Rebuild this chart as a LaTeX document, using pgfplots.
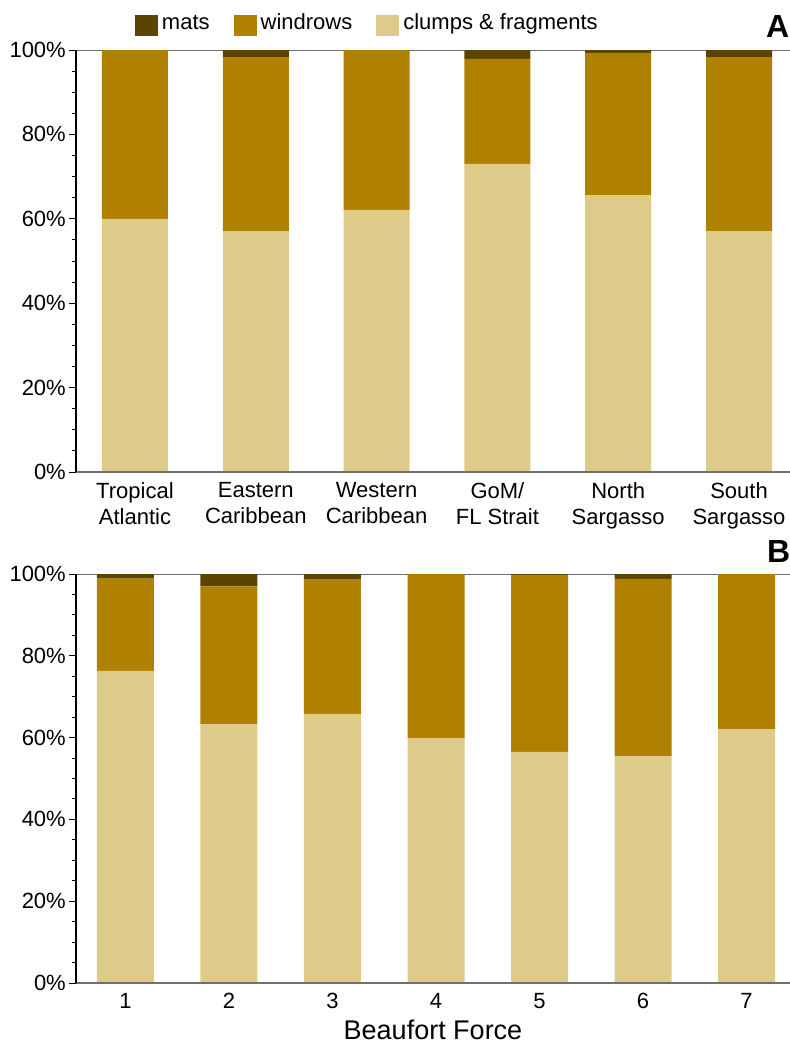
\documentclass[border=0pt]{standalone}
\usepackage{fontspec}
\setmainfont{Liberation Sans}
\usepackage{pgfplots}
\pgfplotsset{compat=1.18}
\definecolor{mats}{RGB}{92,68,0}
\definecolor{windrows}{RGB}{176,128,0}
\definecolor{clumps}{RGB}{223,203,137}
\definecolor{axgray}{RGB}{112,112,112}
\newcommand{\tfont}{\fontsize{22bp}{26bp}\selectfont}
\pgfplotsset{
  panel/.style={
    scale only axis, width=714bp,
    ymin=0, ymax=100, enlargelimits=false,
    ybar stacked, axis on top,
    /pgf/number format/assume math mode=true,
    axis x line*=bottom, axis y line*=left,
    x axis line style={-, draw=axgray, line width=1.5bp},
    y axis line style={-, draw=black, line width=1.5bp},
    xtick style={draw=none},
    ytick={0,20,40,60,80,100},
    yticklabels={0\%,20\%,40\%,60\%,80\%,100\%},
    minor ytick={5,10,15,25,30,35,45,50,55,65,70,75,85,90,95},
    tick align=outside,
    major tick length=7bp, minor tick length=4bp,
    ytick style={draw=black, line width=1bp},
    yticklabel style={font=\tfont, inner xsep=3bp},
    xticklabel style={font=\tfont, align=center},
  }
}
\begin{document}
\begin{tikzpicture}
\useasboundingbox (0,0) rectangle (790bp,-1043bp);
% ---------- Panel A ----------
\begin{axis}[panel,
  at={(76bp,-472bp)}, anchor=south west, height=422bp,
  bar width=66bp,
  xmin=-0.488, xmax=5.422,
  xtick={0,1,2,3,4,5},
  xticklabels={{Tropical\\Atlantic},{Eastern\\Caribbean},{Western\\Caribbean},{GoM/\\FL Strait},{North\\Sargasso},{South\\Sargasso}},
  reverse legend,
  legend columns=3,
  legend image code/.code={\fill[#1] (0bp,-10.5bp) rectangle (23bp,10.5bp);},
  legend style={draw=none, fill=none, inner sep=0pt, outer sep=0pt,
    at={(0.0826,1.058)}, anchor=west, font=\tfont,
    nodes={inner xsep=4bp, inner ysep=0pt, text height=0.7em, text depth=0pt},
    /tikz/every even column/.append style={column sep=20bp}},
]
\addplot[fill=clumps, draw=none] coordinates {(0,60.0) (1,57.1) (2,62.1) (3,73.0) (4,65.6) (5,57.1)};
\addlegendentry{clumps \& fragments}
\addplot[fill=windrows, draw=none] coordinates {(0,40.0) (1,41.2) (2,37.9) (3,24.9) (4,33.7) (5,41.2)};
\addlegendentry{windrows}
\addplot[fill=mats, draw=none] coordinates {(0,0) (1,1.7) (2,0) (3,2.1) (4,0.7) (5,1.7)};
\addlegendentry{mats}
\draw[axgray, line width=1.5bp] (rel axis cs:0,1) -- (rel axis cs:1,1);
\end{axis}
% ---------- Panel B ----------
\begin{axis}[panel,
  at={(76bp,-983bp)}, anchor=south west, height=409bp,
  bar width=57bp,
  xmin=0.522, xmax=7.42,
  xtick={1,2,3,4,5,6,7},
  xticklabels={1,2,3,4,5,6,7},
  xlabel={Beaufort Force},
  xlabel style={font=\fontsize{27bp}{30bp}\selectfont, at={(rel axis cs:0.5,0)}, anchor=base, yshift=-56bp, inner sep=0pt},
]
\addplot[fill=clumps, draw=none] coordinates {(1,76.3) (2,63.3) (3,65.8) (4,59.9) (5,56.5) (6,55.5) (7,62.1)};
\addplot[fill=windrows, draw=none] coordinates {(1,22.6) (2,33.7) (3,32.8) (4,40.1) (5,43.1) (6,43.3) (7,37.9)};
\addplot[fill=mats, draw=none] coordinates {(1,1.1) (2,3.0) (3,1.4) (4,0) (5,0.4) (6,1.2) (7,0)};
\draw[axgray, line width=1.5bp] (rel axis cs:0,1) -- (rel axis cs:1,1);
\end{axis}
\node[anchor=base west, inner sep=0pt, font=\fontsize{32bp}{36bp}\selectfont\bfseries] at (766bp,-37bp) {A};
\node[anchor=base west, inner sep=0pt, font=\fontsize{32bp}{36bp}\selectfont\bfseries] at (767bp,-562bp) {B};
\end{tikzpicture}
\end{document}
